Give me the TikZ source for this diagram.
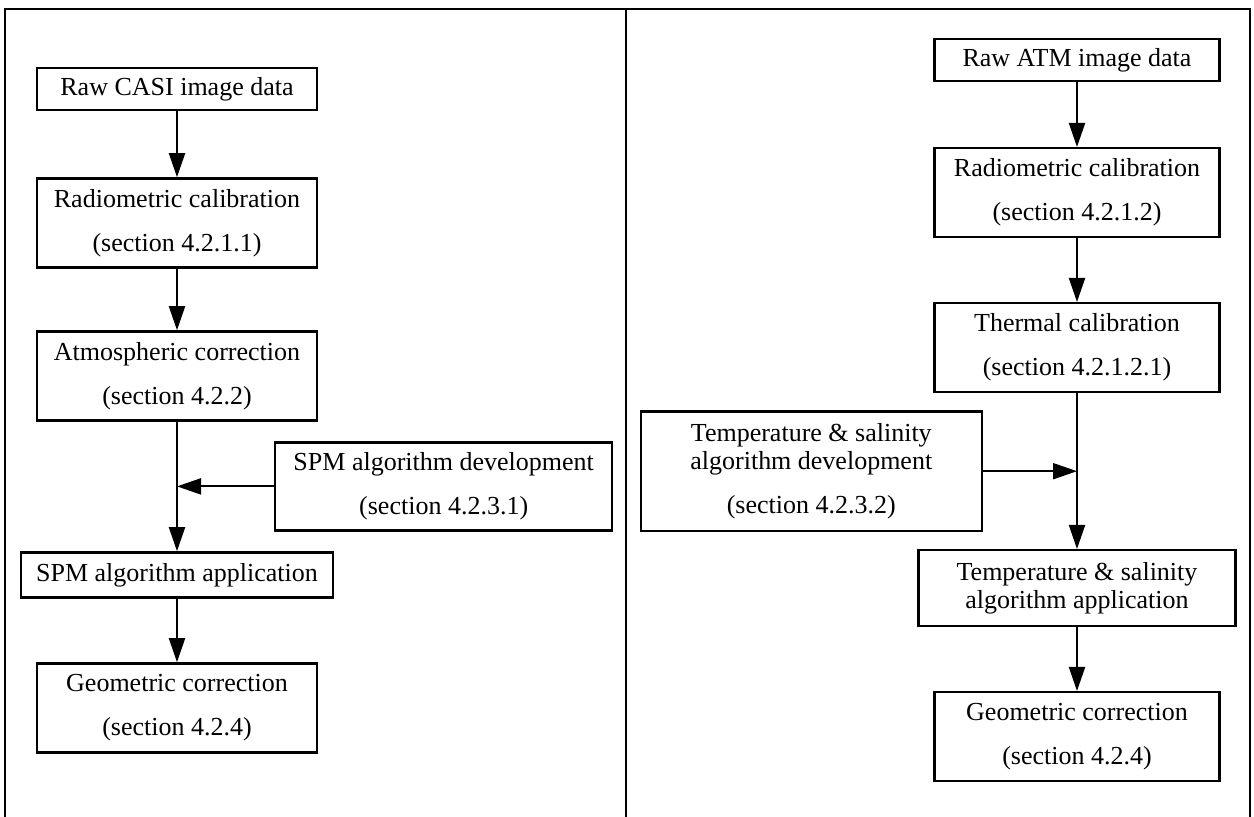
\documentclass[tikz,border=0pt]{standalone}
\usepackage{fontspec}
\setmainfont{Liberation Serif}
\usepackage{tikz}
\usetikzlibrary{arrows.meta,positioning,calc}

\begin{document}
\begin{tikzpicture}[->,>={Triangle[length=12pt,width=8pt]},line width=1pt,x=0.5pt,y=-0.5pt]

        \tikzstyle{box}=[draw=black,fill=white,text=black,line width=1.2pt,align=center,inner sep=2pt,
                         minimum width=140pt,minimum height=21pt,font=\fontsize{13}{14}\selectfont]
        \tikzstyle{tall}=[box,minimum height=44.5pt]

        \useasboundingbox (0,0) rectangle (1254,817);
        \draw[-,line width=1.4pt] (5,817) -- (5,9) -- (1250,9) -- (1250,817);
        \draw[-,line width=1.4pt] (626,9) -- (626,817);

        % CASI
        \node[box]                                     (casi)   at (177,89) {Raw CASI image data};
        \node[tall]            [below=33pt of casi]    (radl)   {Radiometric calibration\\[8pt](section 4.2.1.1)};
        \node[tall]            [below=30.8pt of radl]  (atmos)  {Atmospheric correction\\[8pt](section 4.2.2)};
        \node[box, minimum width=156pt, minimum height=22.5pt] [below=64.8pt of atmos] (spmapp) {SPM algorithm application};
        \node[tall]            [below=31.8pt of spmapp] (geol)  {Geometric correction\\[8pt](section 4.2.4)};
        \coordinate (jl) at ($(atmos.south)!0.5!(spmapp.north)$);
        \node[tall, minimum width=168.5pt, minimum height=44pt] [right=48.5pt of jl] (spmdev) {SPM algorithm development\\[8pt](section 4.2.3.1)};

        % ATM
        \node[box, minimum width=142.5pt]              (atm)    at (1077,60) {Raw ATM image data};
        \node[tall, minimum width=142.5pt] [below=32.4pt of atm]  (radr)  {Radiometric calibration\\[8pt](section 4.2.1.2)};
        \node[tall, minimum width=142.5pt] [below=31.8pt of radr] (therm) {Thermal calibration\\[8pt](section 4.2.1.2.1)};
        \node[box, minimum width=158.5pt, minimum height=37.8pt] [below=77.8pt of therm] (tsapp) {Temperature \& salinity\\algorithm application};
        \node[tall, minimum width=142.5pt] [below=32pt of tsapp]  (geor)  {Geometric correction\\[8pt](section 4.2.4)};
        \coordinate (jr) at ($(therm.south)!0.5!(tsapp.north)$);
        \node[box, minimum width=170.5pt, minimum height=59.8pt] [left=47pt of jr] (tsdev) {Temperature \& salinity\\algorithm development\\[8pt](section 4.2.3.2)};

        \path
        (casi) edge (radl)
        (radl) edge (atmos)
        (atmos) edge (spmapp)
        (spmdev) edge (jl)
        (spmapp) edge (geol)
        (atm) edge (radr)
        (radr) edge (therm)
        (therm) edge (tsapp)
        (tsdev) edge (jr)
        (tsapp) edge (geor)
    ;
\end{tikzpicture}
\end{document}
